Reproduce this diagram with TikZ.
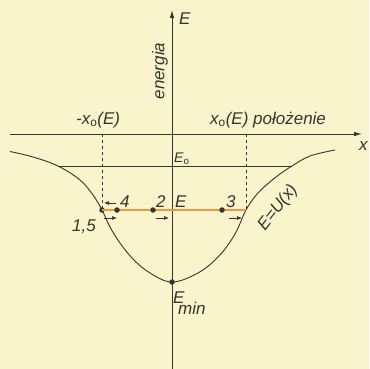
\documentclass[tikz,border=0pt]{standalone}
\usepackage{fontspec}
\setmainfont{Liberation Sans}
\usetikzlibrary{arrows.meta}
\definecolor{paper}{RGB}{249,244,204}
\definecolor{ink}{RGB}{55,52,48}
\definecolor{orng}{RGB}{236,152,66}
\tikzset{
  lbl/.style={text=ink,font=\fontsize{17}{19}\selectfont\itshape,inner sep=0pt},
  small/.style={text=ink,font=\fontsize{14}{16}\selectfont\itshape,inner sep=0pt},
  ax/.style={draw=ink,line width=0.9pt,-{Latex[length=8pt,width=4.5pt]}},
  dot/.style={circle,fill=ink,inner sep=0pt,minimum size=5.5pt},
  tiny/.style={draw=ink,line width=0.7pt,-{Latex[length=5pt,width=4pt]}},
}
\begin{document}
\begin{tikzpicture}[x=1pt,y=-1pt]
\fill[paper] (0,0) rectangle (369,369);
\useasboundingbox (0,0) rectangle (369,369);
% axes
\coordinate (xs) at (10,134); \coordinate (xe) at (362,134);
\coordinate (ys) at (172,369); \coordinate (ye) at (172,10);
\draw[ax] (xs) -- (xe);
\draw[ax] (ys) -- (ye);
% curve
\draw[ink,line width=0.9pt] plot[smooth,tension=0.6] coordinates {
 (10,151.5) (33,157) (58,166) (80,180) (93,195) (102,210) (110,227) (120,243)
 (133,259) (150,273) (172,282) (198,273) (219,256) (235,234) (246,210)
 (258,193) (276,177) (292,166) (310,156) (335,150)};
% E0 line
\coordinate (e0l) at (58,166); \coordinate (e0r) at (292,166);
\draw[ink,line width=0.8pt] (e0l) -- (e0r);
% dashed verticals
\coordinate (dl0) at (102,134); \coordinate (dr0) at (246,134);
\node[dot] (p15) at (102,210) {};
\coordinate (pr) at (246,210);
\draw[ink,dashed,line width=0.8pt] (dl0) -- (p15.center);
\draw[ink,dashed,line width=0.8pt] (dr0) -- (pr);
% E line
\draw[orng,line width=1.3pt] (p15.center) -- (pr);
\node[dot] (p4) at (117,210) {};
\node[dot] (p2) at (153,210) {};
\node[dot] (p3) at (222,210) {};
\node[dot] (pmin) at (172,282) {};
% small arrows
\coordinate (a1s) at (116,203); \coordinate (a1e) at (104,203);
\coordinate (a2s) at (104,218); \coordinate (a2e) at (117,218);
\coordinate (a3s) at (156,218); \coordinate (a3e) at (169,218);
\coordinate (a4s) at (229,218); \coordinate (a4e) at (242,218);
\draw[tiny] (a1s) -- (a1e);
\draw[tiny] (a2s) -- (a2e);
\draw[tiny] (a3s) -- (a3e);
\draw[tiny] (a4s) -- (a4e);
% labels
\node[lbl,anchor=base west] (lE) at (179,25) {E};
\node[lbl,rotate=90] (len) at (160,71) {energia};
\node[lbl,anchor=base west] (lx) at (359,150) {x};
\node[lbl,anchor=base west] (lmx) at (76,124) {-x$_{\mathrm{o}}$(E)};
\node[lbl,anchor=base west] (lpx) at (210,124) {x$_{\mathrm{o}}$(E) położenie};
\node[small,anchor=base west] (lE0) at (174,162) {E$_{\mathrm{o}}$};
\node[lbl,anchor=base west] (l4) at (120,207) {4};
\node[lbl,anchor=base west] (l2) at (156,207) {2};
\node[lbl,anchor=base west] (lEE) at (175,207) {E};
\node[lbl,anchor=base west] (l3) at (226,207) {3};
\node[lbl,anchor=base west] (l15) at (72,231) {1,5};
\node[lbl,anchor=base west] (lmin) at (173,303) {E};
\node[lbl,anchor=base west] (lmin2) at (178,314) {min};
\node[lbl,rotate=52] (lU) at (278,208) {E=U(x)};
\end{tikzpicture}
\end{document}
